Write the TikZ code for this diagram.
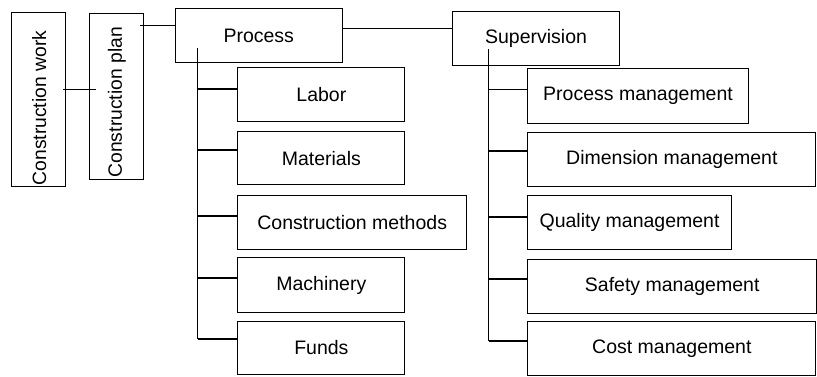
\documentclass[tikz,border=0pt]{standalone}
\usepackage{fontspec}
\setmainfont{Liberation Sans}
\begin{document}
\begin{tikzpicture}[x=1pt,y=-1pt,
  box/.style={draw=black, line width=1.1pt, anchor=north west, inner sep=0pt, font=\fontsize{19.5}{22}\selectfont},
  conn/.style={draw=black, line width=1.6pt},
  vtext/.style={rotate=90, inner sep=0pt, font=\fontsize{19.3}{22}\selectfont}]
\useasboundingbox (0,0) rectangle (817,376);
% boxes
\node[box, minimum width=54.6pt, minimum height=174pt] (cw) at (10.7,11.7) {};
\node[box, minimum width=54.6pt, minimum height=166.3pt] (cp) at (88.7,12.7) {};
\node[vtext] (cwt) at (39.3,108) {Construction work};
\node[vtext] (cpt) at (117,102.3) {Construction plan};
\node[box, minimum width=167pt, minimum height=54.3pt] (proc) at (174.7,8) {Process};
\node[box, minimum width=167pt, minimum height=54.3pt] (sup) at (452,10.7) {Supervision};
\node[box, minimum width=167pt, minimum height=54.3pt] (labor) at (237.3,66.7) {Labor};
\node[box, minimum width=167pt, minimum height=53.6pt] (mat) at (237.3,130.7) {Materials};
\node[box, minimum width=228.7pt, minimum height=54pt] (cm) at (237.3,195.3) {Construction methods};
\node[box, minimum width=167pt, minimum height=54.4pt] (mach) at (237.3,257.3) {Machinery};
\node[box, minimum width=167pt, minimum height=53.3pt] (funds) at (237.3,320.7) {Funds};
\node[box, minimum width=220.4pt, minimum height=54.4pt] (pm) at (527.3,68.3) {Process management};
\node[box, minimum width=288pt, minimum height=54.3pt] (dm) at (527.3,131.7) {Dimension management};
\node[box, minimum width=203.4pt, minimum height=54pt] (qm) at (527.3,195.3) {Quality management};
\node[box, minimum width=288.7pt, minimum height=54.6pt] (sm) at (527.3,258.7) {Safety management};
\node[box, minimum width=288pt, minimum height=54pt] (cost) at (527.3,321.3) {Cost management};
% connector helpers
\coordinate (ptop) at (197.5,47.7);
\coordinate (stop) at (488.5,49);
% connectors
\draw[conn] ([xshift=-3.6pt]cw.east |- 0,89.3) -- ([xshift=7pt]cp.west |- 0,89.3);
\draw[conn] ([xshift=-4pt]cp.east |- 0,25.3) -- (proc.west |- 0,25.3);
\draw[conn] (proc.east |- 0,28.3) -- (sup.west |- 0,28.3);
\draw[conn] (ptop) -- (ptop |- 0,339);
\draw[conn] (ptop |- 0,88.7) -- (labor.west |- 0,88.7);
\draw[conn] (ptop |- 0,150) -- (mat.west |- 0,150);
\draw[conn] (ptop |- 0,215.7) -- (cm.west |- 0,215.7);
\draw[conn] (ptop |- 0,277.7) -- (mach.west |- 0,277.7);
\draw[conn] (ptop |- 0,339) -- (funds.west |- 0,339);
\draw[conn] (stop) -- (stop |- 0,340.7);
\draw[conn] (stop |- 0,89.3) -- (pm.west |- 0,89.3);
\draw[conn] (stop |- 0,151) -- (dm.west |- 0,151);
\draw[conn] (stop |- 0,216.7) -- (qm.west |- 0,216.7);
\draw[conn] (stop |- 0,278.7) -- (sm.west |- 0,278.7);
\draw[conn] (stop |- 0,340.7) -- (cost.west |- 0,340.7);
\end{tikzpicture}
\end{document}
